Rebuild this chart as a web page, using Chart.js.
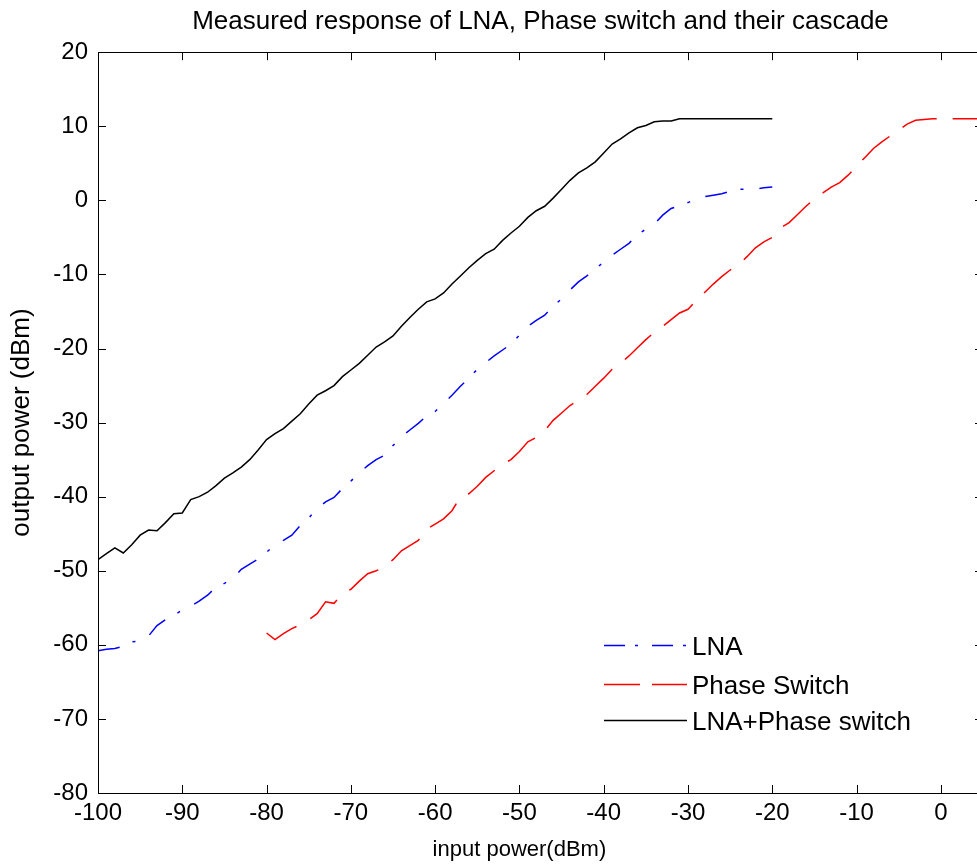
<!DOCTYPE html>
<html>
<head>
<meta charset="utf-8">
<script src="https://cdn.jsdelivr.net/npm/chart.js@4.4.0/dist/chart.umd.min.js"></script>
<style>
html, body { margin: 0; padding: 0; background: #fff; overflow: hidden; }
#chart { display: block; }
</style>
</head>
<body>
<canvas id="chart" width="985" height="867"></canvas>
<script>
// measured sweep, input power in dBm
const lnaInput = [-100, -99, -98, -97, -96, -95, -94, -93, -92, -91, -90, -89, -88, -87, -86, -85, -84, -83, -82, -81,
    -80, -79, -78, -77, -76, -75, -74, -73, -72, -71, -70, -69, -68, -67, -66, -65, -64, -63, -62, -61,
    -60, -59, -58, -57, -56, -55, -54, -53, -52, -51, -50, -49, -48, -47, -46, -45, -44, -43, -42, -41,
    -40, -39, -38, -37, -36, -35, -34, -33, -32, -31, -30, -29, -28, -27, -26, -25, -24, -23, -22, -21, -20];
const lnaOutput = [-60.8, -60.6, -60.5, -60.2, -59.6, -59.5, -58.8, -57.4, -56.6, -56.0, -55.3, -54.8, -54.1, -53.3, -52.2, -51.7, -51.1, -49.8, -49.1, -48.4,
    -47.5, -46.5, -45.9, -45.2, -43.9, -42.9, -41.6, -40.7, -40.1, -38.9, -37.9, -36.8, -35.8, -35.0, -34.4, -33.1, -31.9, -31.0, -30.1, -29.1,
    -28.5, -27.4, -26.3, -25.1, -24.0, -22.8, -21.9, -21.0, -20.2, -19.4, -18.2, -17.0, -16.2, -15.5, -14.3, -13.3, -12.1, -11.0, -10.2, -9.3,
    -8.3, -7.4, -6.6, -5.8, -4.6, -3.9, -3.2, -2.0, -1.1, -0.7, -0.3, 0.2, 0.5, 0.7, 0.9, 1.2, 1.5, 1.5, 1.5, 1.7, 1.8];

const switchInput = [-80, -79, -78, -77, -76, -75, -74, -73, -72, -71, -70, -69, -68, -67, -66, -65, -64, -63, -62, -61,
    -60, -59, -58, -57, -56, -55, -54, -53, -52, -51, -50, -49, -48, -47, -46, -45, -44, -43, -42, -41,
    -40, -39, -38, -37, -36, -35, -34, -33, -32, -31, -30, -29, -28, -27, -26, -25, -24, -23, -22, -21,
    -20, -19, -18, -17, -16, -15, -14, -13, -12, -11, -10, -9, -8, -7, -6, -5, -4, -3, -2, -1, 0, 1, 2, 3, 4, 5];
const switchOutput = [-58.4, -59.3, -58.5, -57.8, -57.3, -56.6, -55.8, -54.2, -54.4, -53.1, -52.5, -51.4, -50.4, -50.0, -49.5, -48.5, -47.3, -46.6, -45.9, -44.4,
    -43.7, -43.0, -41.9, -40.0, -39.6, -38.6, -37.4, -36.5, -35.6, -35.0, -33.9, -32.6, -32.0, -31.1, -29.7, -28.7, -27.7, -27.0, -26.2, -25.1,
    -24.0, -22.8, -22.0, -21.0, -19.9, -18.8, -17.8, -17.0, -16.1, -15.2, -14.7, -13.5, -12.4, -11.3, -10.3, -9.4, -8.7, -7.6, -6.4, -5.6,
    -5.0, -3.7, -3.0, -1.9, -0.8, 0.2, 1.0, 1.8, 2.4, 3.4, 4.6, 5.8, 7.0, 7.9, 8.7, 9.5, 10.3, 10.8, 10.9, 11.0, 11.0, 11.0, 11.0, 11.0, 11.0, 11.0];

const cascadeInput = lnaInput;
const cascadeOutput = [-48.5, -47.7, -46.9, -47.6, -46.5, -45.2, -44.5, -44.6, -43.5, -42.3, -42.2, -40.4, -40.0, -39.4, -38.5, -37.5, -36.8, -36.0, -35.0, -33.7,
    -32.3, -31.5, -30.8, -29.8, -28.8, -27.5, -26.3, -25.7, -25.0, -23.8, -22.9, -22.0, -20.9, -19.8, -19.1, -18.3, -17.0, -15.8, -14.7, -13.7,
    -13.3, -12.5, -11.3, -10.2, -9.1, -8.1, -7.2, -6.6, -5.4, -4.4, -3.5, -2.3, -1.4, -0.8, 0.3, 1.5, 2.7, 3.7, 4.4, 5.2,
    6.4, 7.6, 8.3, 9.1, 9.8, 10.1, 10.6, 10.7, 10.7, 11.0, 11.0, 11.0, 11.0, 11.0, 11.0, 11.0, 11.0, 11.0, 11.0, 11.0, 11.0];

const seriesLabels = ['LNA', 'Phase Switch', 'LNA+Phase switch'];
const chartTitle = 'Measured response of LNA, Phase switch and their cascade';
const xTitle = 'input power(dBm)';
const yTitle = 'output power (dBm)';

const FONT = "'Liberation Sans', Arial, sans-serif";
const TICK = 8;

function pairs(xs, ys) {
    return xs.map((x, i) => ({ x: x, y: ys[i] }));
}

// matlab style box with ticks pointing inwards, plus the xlabel
const axesBox = {
    id: 'axesBox',
    afterDatasetsDraw(chart) {
        const { ctx, chartArea: a, scales: { x, y } } = chart;
        ctx.save();
        ctx.strokeStyle = '#000';
        ctx.lineWidth = 1;
        ctx.beginPath();
        ctx.rect(Math.round(a.left) + 0.5, Math.round(a.top) + 0.5, Math.round(a.right - a.left), Math.round(a.bottom - a.top));
        x.ticks.forEach(t => {
            const px = Math.round(x.getPixelForValue(t.value)) + 0.5;
            ctx.moveTo(px, a.bottom); ctx.lineTo(px, a.bottom - TICK);
            ctx.moveTo(px, a.top); ctx.lineTo(px, a.top + TICK);
        });
        y.ticks.forEach(t => {
            const py = Math.round(y.getPixelForValue(t.value)) + 0.5;
            ctx.moveTo(a.left, py); ctx.lineTo(a.left + TICK, py);
            ctx.moveTo(a.right, py); ctx.lineTo(a.right - TICK, py);
        });
        ctx.stroke();

        ctx.fillStyle = '#000';
        ctx.font = '22px ' + FONT;
        ctx.textAlign = 'center';
        ctx.textBaseline = 'middle';
        ctx.fillText(xTitle, x.getPixelForValue(-50), x.bottom - 17);
        ctx.restore();
    }
};

const legendDash = [[21, 10, 3, 14], [36, 12], []];

const legendBox = {
    id: 'legendBox',
    afterDraw(chart) {
        const { ctx, chartArea: a } = chart;
        const rows = [148, 109, 73];   // distance from bottom of the axes
        ctx.save();
        chart.data.datasets.forEach((ds, i) => {
            const yy = a.bottom - rows[i] + 0.5;
            ctx.strokeStyle = ds.borderColor;
            ctx.lineWidth = 1.5;
            ctx.setLineDash(legendDash[i]);
            ctx.beginPath();
            ctx.moveTo(a.left + 506, yy);
            ctx.lineTo(a.left + 589, yy);
            ctx.stroke();
            ctx.setLineDash([]);
            ctx.fillStyle = '#000';
            ctx.font = '26px ' + FONT;
            ctx.textBaseline = 'middle';
            ctx.fillText(ds.label, a.left + 594, yy + 2);
        });
        ctx.restore();
    }
};

const canvas = document.getElementById('chart');
new Chart(canvas, {
    type: 'line',
    data: {
        datasets: [{
            label: seriesLabels[0],
            data: pairs(lnaInput, lnaOutput),
            borderColor: '#0000ff',
            borderDash: [22, 14, 3, 16],
            borderWidth: 1.5,
            pointRadius: 0,
            fill: false
        }, {
            label: seriesLabels[1],
            data: pairs(switchInput, switchOutput),
            borderColor: '#ff0000',
            borderDash: [36, 16],
            borderWidth: 1.5,
            pointRadius: 0,
            fill: false
        }, {
            label: seriesLabels[2],
            data: pairs(cascadeInput, cascadeOutput),
            borderColor: '#000000',
            borderWidth: 1.5,
            pointRadius: 0,
            fill: false
        }]
    },
    options: {
        responsive: false,
        animation: false,
        layout: { padding: { right: 2 } },
        plugins: {
            legend: { display: false },
            tooltip: { enabled: false },
            title: {
                display: true,
                fullSize: false,
                text: chartTitle,
                color: '#000',
                font: { family: FONT, size: 26, weight: 'normal' },
                padding: { top: 6, bottom: 15 }
            }
        },
        scales: {
            x: {
                type: 'linear',
                min: -100,
                max: 5,
                afterBuildTicks: s => { s.ticks = s.ticks.filter(t => t.value % 10 === 0); },
                afterFit: s => { s.height = 74; },
                ticks: { stepSize: 10, color: '#000', font: { family: FONT, size: 24 }, padding: 6, maxRotation: 0, autoSkip: false },
                grid: { display: false, drawTicks: false },
                border: { display: false }
            },
            y: {
                min: -80,
                max: 20,
                afterFit: s => { s.width = 98; },
                ticks: { stepSize: 10, color: '#000', font: { family: FONT, size: 24 }, padding: 10 },
                grid: { display: false, drawTicks: false },
                border: { display: false },
                title: {
                    display: true,
                    text: yTitle,
                    color: '#000',
                    font: { family: FONT, size: 26 },
                    padding: { top: 6, bottom: 0 }
                }
            }
        }
    },
    plugins: [axesBox, legendBox]
});
</script>
</body>
</html>
